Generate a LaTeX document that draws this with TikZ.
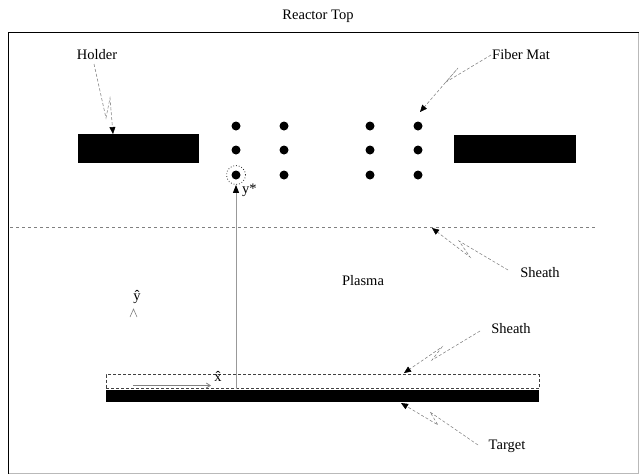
\documentclass[tikz,border=0pt]{standalone}
\usepackage{fontspec}
\setmainfont{Liberation Serif}
\usetikzlibrary{arrows.meta,calc}
\begin{document}
\begin{tikzpicture}[x=1pt,y=-1pt,
  lbl/.style={font=\fontsize{14.5}{16}\selectfont, inner sep=0pt},
  bar/.style={fill=black, inner sep=0pt},
  fiber/.style={circle, fill=black, minimum size=9pt, inner sep=0pt},
  leader/.style={draw=gray, densely dashed, line width=0.55pt,
    -{Triangle[black,length=7pt,width=6pt]}},
  axis/.style={draw=gray!80, line width=0.9pt},
]
\useasboundingbox (0,0) rectangle (639,475);

% reactor chamber outline
\draw[gray!55, line width=1pt] (8.5,473) -- (638.5,473) -- (638.5,32.5);
\draw[black, line width=1.6pt] (8.5,473.5) -- (8.5,32.5) -- (639,32.5);
\node[lbl] (title) at (318,16) {Reactor Top};

% holder plates
\node[bar, minimum width=121pt, minimum height=29pt] (holderL) at (138.5,148.5) {};
\node[bar, minimum width=122pt, minimum height=28pt] (holderR) at (515,149) {};

% fiber mat cross-section
\foreach \c/\x in {a/236,b/284,c/370,d/418}{
  \foreach \r/\y in {1/126,2/150,3/175}{
    \node[fiber] (f\c\r) at (\x,\y) {};
  }
}
\node[draw=black!80, dotted, line width=0.8pt, circle, minimum size=19pt, inner sep=0pt] (probe) at (236,175) {};
\node[lbl, anchor=west] (ystar) at (242,190) {y*};

% sheath boundary below the mat
\coordinate (shL) at (10,227.5);
\coordinate (shR) at (596,227.5);
\draw[gray, dashed, line width=0.6pt] (shL) -- (shR);

\node[lbl] (plasma) at (363,281) {Plasma};

% target with its sheath
\node[draw=black!75, densely dashed, line width=0.8pt, minimum width=433pt,
  minimum height=14pt, inner sep=0pt] (sheathbox) at (322.5,381.5) {};
\node[bar, minimum width=433pt, minimum height=12pt] (target) at (322.5,396) {};

% distance from target to fiber
\coordinate (origin) at (236,389);
\draw[axis, -{Triangle[black,length=8pt,width=6pt]}] (origin) -- (probe.south);

% coordinate axes
\node[lbl] (xhat) at (218,376) {\^{x}};
\coordinate (xs) at (133,385.5);
\coordinate (xe) at (211,385.5);
\draw[gray, line width=0.8pt, -{Straight Barb[length=4pt,width=5pt]}] (xs) -- (xe);
\node[lbl] (yhat) at (137,297) {ŷ};
\coordinate (yc) at (133.5,309);
\draw[gray, line width=0.6pt] ($(yc)+(-3.5,8)$) -- (yc) -- ($(yc)+(3.5,8)$);

% labels with broken leaders
\node[lbl] (holder) at (97,55) {Holder};
\coordinate (hs) at (94,64);
\coordinate (ht) at (113,134);
\draw[leader] (hs) -- (106,118) -- (110,98) -- (ht);

\node[lbl] (fiberlbl) at (521,55) {Fiber Mat};
\coordinate (fs) at (491,55);
\coordinate (ft) at (420,112);
\draw[leader] (fs) -- (446,82) -- (458,68) -- (ft);

\node[lbl] (sheathU) at (540,273) {Sheath};
\coordinate (ss) at (508,270);
\coordinate (st) at (432,228);
\draw[leader] (ss) -- (459,241) -- (470,257) -- (st);

\node[lbl] (sheathD) at (511,329) {Sheath};
\coordinate (ds) at (480,331);
\coordinate (dt) at (404,373);
\draw[leader] (ds) -- (432,360) -- (442,347) -- (dt);

\node[lbl] (targetlbl) at (507,446) {Target};
\coordinate (ts) at (478,445);
\coordinate (tt) at (401,403);
\draw[leader] (ts) -- (430,412) -- (438,425) -- (tt);
\end{tikzpicture}
\end{document}
